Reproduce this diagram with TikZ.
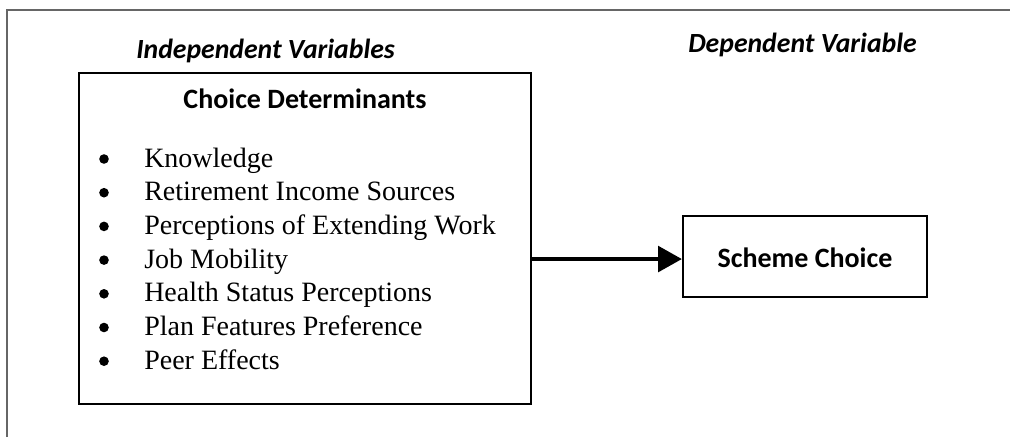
\documentclass[tikz,border=0pt]{standalone}
\usepackage{fontspec}
\setmainfont{Liberation Serif}
\newfontfamily\calib{Carlito}
\usetikzlibrary{arrows.meta}
\tikzset{
  frameline/.style={draw=black!60, line width=1.1pt},
  boxstyle/.style={draw=black, line width=1.5pt, rectangle, inner sep=0pt},
  heading/.style={font=\calib\fontsize{20.8}{24}\selectfont\bfseries\itshape, inner sep=0pt, anchor=base west},
  boxtitle/.style={font=\calib\fontsize{21}{25}\selectfont\bfseries, inner sep=0pt},
  item/.style={font=\fontsize{21}{25}\selectfont, inner sep=0pt, anchor=base west},
  bul/.style={circle, fill=black, inner sep=0pt, minimum size=7.2pt},
  conn/.style={line width=3.6pt, -{Triangle[length=18pt,width=19pt]}, shorten >=0pt}
}
\begin{document}
\begin{tikzpicture}[x=0.75pt,y=-0.75pt]
\useasboundingbox (0,0) rectangle (1010,437);
\draw[frameline] (7,437) -- (7,10) -- (1010,10);
\node[heading] (iv) at (136,58) {Independent Variables};
\node[heading] (dv) at (688,52) {Dependent Variable};
\node[boxstyle, minimum width=452*0.75pt, minimum height=331*0.75pt] (det) at (305,238.5) {};
\node[boxtitle, anchor=base] (dettitle) at (305,108) {Choice Determinants};
\foreach \t [count=\i] in {Knowledge,Retirement Income Sources,Perceptions of Extending Work,Job Mobility,Health Status Perceptions,Plan Features Preference,Peer Effects}{
  \node[bul] (b\i) at (104,{167+33.7*(\i-1)-8}) {};
  \node[item] (it\i) at (144,{167+33.7*(\i-1)}) {\t};
}
\node[boxstyle, minimum width=244*0.75pt, minimum height=81*0.75pt] (sc) at (805,256.5) {};
\node[boxtitle, anchor=base] (sct) at (805,267) {Scheme Choice};
\draw[conn] ([yshift=-1.9pt]det.east |- sc.west) -- ([yshift=-1.9pt]sc.west);
\end{tikzpicture}
\end{document}
